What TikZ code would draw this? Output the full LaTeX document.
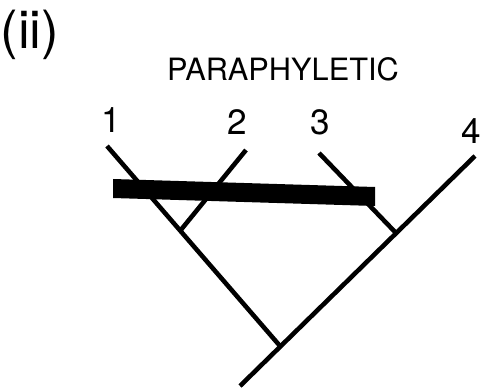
\documentclass[tikz,border=0pt]{standalone}
\usepackage{fontspec}
\setmainfont{TeX Gyre Heros}
\tikzset{
  branch/.style={line width=2.6pt, line cap=butt},
  taxon/.style={inner sep=0pt, font=\fontsize{20}{20}\selectfont},
}

\begin{document}
\begin{tikzpicture}[x=0.02cm, y=-0.02cm]
	\useasboundingbox (0,0) rectangle (480,388);
	% labels
	\node[inner sep=0pt, font=\fontsize{30}{30}\selectfont] at (30,35) (part) {(ii)};
	\node[inner sep=0pt, font=\fontsize{17.5}{17.5}\selectfont] at (283,69) (title) {PARAPHYLETIC};
	\node[taxon] at (111,120) (n1) {1};
	\node[taxon] at (237,122) (n2) {2};
	\node[taxon] at (320,122) (n3) {3};
	\node[taxon] at (471,131) (n4) {4};
	% tree
	\coordinate (t1)   at (107,146);
	\coordinate (t2)   at (246,150);
	\coordinate (t3)   at (319,153);
	\coordinate (t4)   at (475,156);
	\coordinate (j12)  at (180,231);
	\coordinate (j34)  at (396,233);
	\coordinate (root) at (280,346);
	\coordinate (base) at (240,386);
	\draw[branch] (t1) -- (root);
	\draw[branch] (base) -- (t4);
	\draw[branch] (j12) -- (t2);
	\draw[branch] (j34) -- (t3);
	% character bar
	\fill (113,179) -- (375,187) -- (375,206) -- (113,198) -- cycle;
\end{tikzpicture}
\end{document}
